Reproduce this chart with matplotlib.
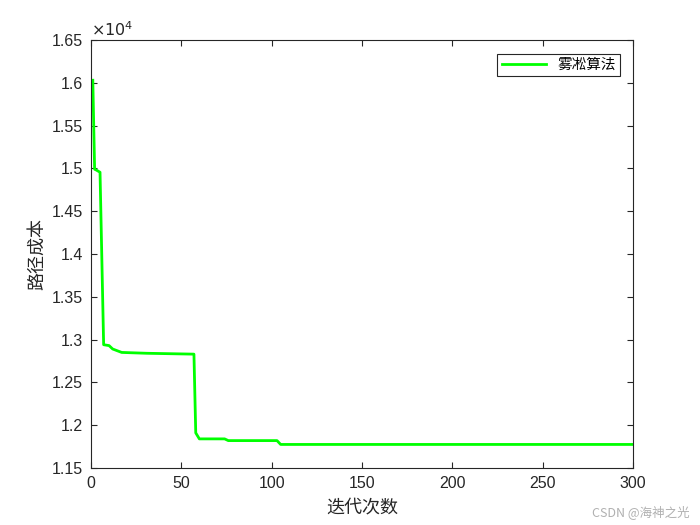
import matplotlib.pyplot as plt
from matplotlib.ticker import FuncFormatter

plt.rcParams['font.family'] = ['Liberation Sans', 'Noto Sans CJK SC', 'DejaVu Sans']

# convergence curve (iteration, best cost)
iters = [1, 2, 3, 5, 7, 10, 12, 17, 31, 57, 58, 60, 74, 76, 103, 105, 300]
cost = [16030, 14990, 14980, 14955, 12940, 12930, 12890, 12850, 12840, 12830,
        11910, 11840, 11840, 11820, 11820, 11775, 11775]

xticks = [0, 50, 100, 150, 200, 250, 300]
yticks = [11500, 12000, 12500, 13000, 13500, 14000, 14500, 15000, 15500, 16000, 16500]

fig = plt.figure(figsize=(7, 5.25), dpi=100)
ax = fig.add_axes([0.13, 0.1086, 0.774, 0.8152])

ax.plot(iters, cost, color='#00ff00', lw=2, label='雾凇算法')

ax.set_xlim(0, 300)
ax.set_ylim(11500, 16500)
ax.set_xticks(xticks)
ax.set_yticks(yticks)
ax.yaxis.set_major_formatter(FuncFormatter(lambda v, p: '%g' % (v / 1e4)))
ax.tick_params(direction='in', top=True, right=True, length=4, width=0.8,
               labelsize=11.5, colors='#262626', pad=6)
for s in ax.spines.values():
    s.set_color('#262626')
    s.set_linewidth(0.8)

ax.text(0.0, 1.003, r'$\times 10^4$', transform=ax.transAxes, fontsize=11.5,
        color='#262626', ha='left', va='bottom')

cjk = ['Noto Sans CJK SC', 'DejaVu Sans']
ax.set_xlabel('迭代次数', family=cjk, fontsize=13, color='#262626', labelpad=5)
ax.set_ylabel('路径成本', family=cjk, fontsize=13, color='#262626', labelpad=4)

leg = ax.legend(loc='upper right', prop={'family': cjk, 'size': 10.5},
                fancybox=False, edgecolor='#262626', framealpha=1,
                handlelength=3.0, borderpad=0.3, bbox_to_anchor=(0.99, 0.985))
leg.get_frame().set_linewidth(0.8)

fig.text(0.985, 0.012, 'CSDN @海神之光', family=['Noto Sans CJK SC', 'DejaVu Sans'],
         fontsize=9, color='#b0b0b0', ha='right', va='bottom')

fig.savefig('out.png', dpi=100, facecolor='white')
